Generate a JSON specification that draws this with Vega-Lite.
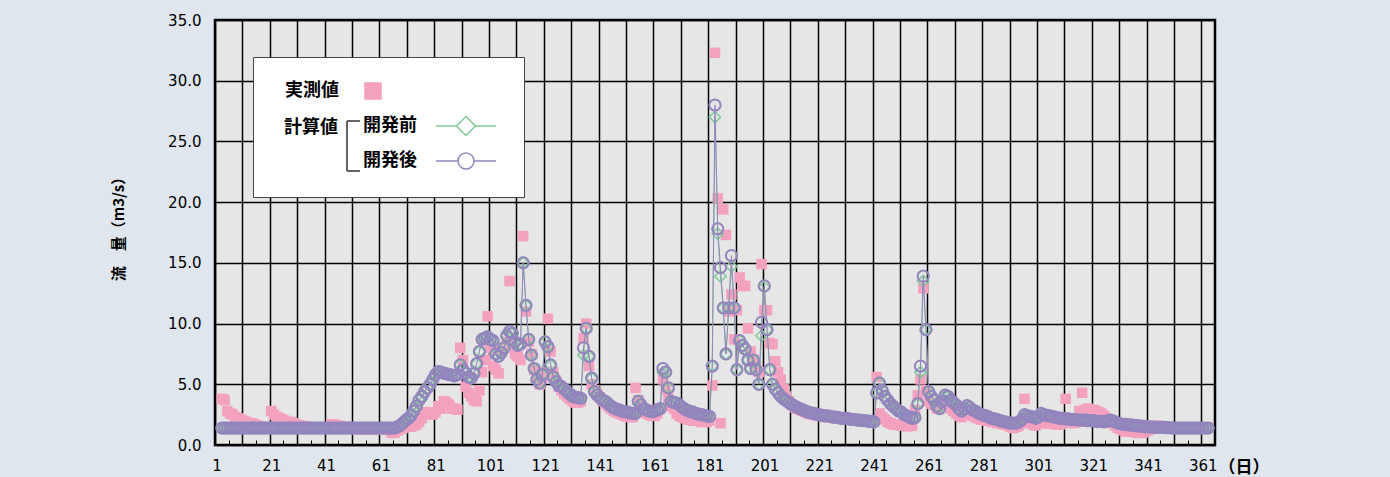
{
"$schema": "https://vega.github.io/schema/vega-lite/v6.json",
"autosize": {"type": "none"},
"padding": {"left": 215, "top": 20, "right": 175, "bottom": 32},
"width": 1000,
"height": 425,
"background": "#dfe6ee",
"config": {
  "view": {"fill": "#e6e6e6", "stroke": "#000000", "strokeWidth": 2.5},
  "axis": {"labelColor": "#000000", "titleColor": "#000000"},
  "axisY": {"tickCount": 8, "grid": true, "gridColor": "#000000", "gridWidth": 1.5, "ticks": false, "domain": false,
    "labelFont": "DejaVu Sans", "labelFontSize": 15, "labelPadding": 14,
    "titleFont": "Noto Sans CJK JP", "titleFontSize": 15, "titleFontWeight": "bold",
    "titleX": -97, "titleY": 205, "titleAngle": -90, "titleAlign": "center", "titleBaseline": "middle"}
},
"data": {"values": [
{"d":3,"o":3.8,"b":1.4,"a":1.4},{"d":4,"o":3.7,"b":1.4,"a":1.4},{"d":5,"o":2.8,"b":1.4,"a":1.4},{"d":6,"o":2.6,"b":1.4,"a":1.4},{"d":7,"o":2.5,"b":1.4,"a":1.4},{"d":8,"o":2.3,"b":1.4,"a":1.4},{"d":9,"o":2.2,"b":1.4,"a":1.4},{"d":10,"o":2.1,"b":1.4,"a":1.4},
{"d":11,"o":2.0,"b":1.4,"a":1.4},{"d":12,"o":1.9,"b":1.4,"a":1.4},{"d":13,"o":1.8,"b":1.4,"a":1.4},{"d":14,"o":1.8,"b":1.4,"a":1.4},{"d":15,"o":1.7,"b":1.4,"a":1.4},{"d":16,"o":1.6,"b":1.4,"a":1.4},{"d":17,"o":1.5,"b":1.4,"a":1.4},{"d":18,"o":1.5,"b":1.4,"a":1.4},{"d":19,"o":1.4,"b":1.4,"a":1.4},{"d":20,"o":1.4,"b":1.4,"a":1.4},
{"d":21,"o":2.8,"b":1.4,"a":1.4},{"d":22,"o":2.5,"b":1.4,"a":1.4},{"d":23,"o":2.3,"b":1.4,"a":1.4},{"d":24,"o":2.2,"b":1.4,"a":1.4},{"d":25,"o":2.1,"b":1.4,"a":1.4},{"d":26,"o":2.0,"b":1.4,"a":1.4},{"d":27,"o":1.9,"b":1.4,"a":1.4},{"d":28,"o":1.9,"b":1.4,"a":1.4},{"d":29,"o":1.8,"b":1.4,"a":1.4},{"d":30,"o":1.7,"b":1.4,"a":1.4},
{"d":31,"o":1.6,"b":1.4,"a":1.4},{"d":32,"o":1.6,"b":1.4,"a":1.4},{"d":33,"o":1.5,"b":1.4,"a":1.4},{"d":34,"o":1.5,"b":1.4,"a":1.4},{"d":35,"o":1.5,"b":1.4,"a":1.4},{"d":36,"o":1.4,"b":1.4,"a":1.4},{"d":37,"o":1.4,"b":1.4,"a":1.4},{"d":38,"o":1.4,"b":1.4,"a":1.4},{"d":39,"o":1.4,"b":1.4,"a":1.4},{"d":40,"o":1.4,"b":1.4,"a":1.4},
{"d":41,"o":1.4,"b":1.4,"a":1.4},{"d":42,"o":1.4,"b":1.4,"a":1.4},{"d":43,"o":1.7,"b":1.4,"a":1.4},{"d":44,"o":1.7,"b":1.4,"a":1.4},{"d":45,"o":1.6,"b":1.4,"a":1.4},{"d":46,"o":1.6,"b":1.4,"a":1.4},{"d":47,"o":1.5,"b":1.4,"a":1.4},{"d":48,"o":1.5,"b":1.4,"a":1.4},{"d":49,"o":1.4,"b":1.4,"a":1.4},{"d":50,"o":1.4,"b":1.4,"a":1.4},
{"d":51,"o":1.4,"b":1.4,"a":1.4},{"d":52,"o":1.3,"b":1.4,"a":1.4},{"d":53,"o":1.3,"b":1.4,"a":1.4},{"d":54,"o":1.3,"b":1.4,"a":1.4},{"d":55,"o":1.3,"b":1.4,"a":1.4},{"d":56,"o":1.3,"b":1.4,"a":1.4},{"d":57,"o":1.3,"b":1.4,"a":1.4},{"d":58,"o":1.3,"b":1.4,"a":1.4},{"d":59,"o":1.3,"b":1.4,"a":1.4},{"d":60,"o":1.3,"b":1.4,"a":1.4},
{"d":61,"o":1.3,"b":1.4,"a":1.4},{"d":62,"o":1.3,"b":1.4,"a":1.4},{"d":63,"o":1.3,"b":1.4,"a":1.4},{"d":64,"o":1.3,"b":1.4,"a":1.4},{"d":65,"o":1.0,"b":1.4,"a":1.4},{"d":66,"o":1.0,"b":1.4,"a":1.4},{"d":67,"o":1.2,"b":1.5,"a":1.5},{"d":68,"o":1.3,"b":1.6,"a":1.6},{"d":69,"o":1.4,"b":1.8,"a":1.8},{"d":70,"o":1.5,"b":2.0,"a":2.0},
{"d":71,"o":1.6,"b":2.2,"a":2.2},{"d":72,"o":1.5,"b":2.4,"a":2.4},{"d":73,"o":1.6,"b":2.8,"a":2.8},{"d":74,"o":1.7,"b":3.2,"a":3.2},{"d":75,"o":1.9,"b":3.7,"a":3.7},{"d":76,"o":2.2,"b":4.0,"a":4.0},{"d":77,"o":2.7,"b":4.4,"a":4.4},{"d":78,"o":2.6,"b":4.7,"a":4.7},{"d":79,"o":2.6,"b":5.0,"a":5.0},{"d":80,"o":2.5,"b":5.4,"a":5.4},
{"d":81,"o":2.7,"b":5.8,"a":5.8},{"d":82,"o":3.2,"b":6.05,"a":6.05},{"d":83,"o":3.0,"b":6.0,"a":6.0},{"d":84,"o":3.6,"b":5.9,"a":5.9},{"d":85,"o":3.5,"b":5.85,"a":5.85},{"d":86,"o":3.3,"b":5.8,"a":5.8},{"d":87,"o":3.0,"b":5.75,"a":5.75},{"d":88,"o":3.0,"b":5.7,"a":5.7},{"d":89,"o":2.9,"b":5.8,"a":5.8},{"d":90,"o":8.0,"b":6.6,"a":6.6},
{"d":91,"o":7.0,"b":6.2,"a":6.2},{"d":92,"o":4.8,"b":5.9,"a":5.9},{"d":93,"o":4.3,"b":5.6,"a":5.6},{"d":94,"o":4.0,"b":5.5,"a":5.5},{"d":95,"o":3.7,"b":5.9,"a":5.9},{"d":96,"o":3.6,"b":6.7,"a":6.7},{"d":97,"o":4.5,"b":7.7,"a":7.7},{"d":98,"o":6.0,"b":8.7,"a":8.7},{"d":99,"o":7.0,"b":8.8,"a":8.8},{"d":100,"o":10.6,"b":8.9,"a":8.9},
{"d":101,"o":8.0,"b":8.7,"a":8.7},{"d":102,"o":6.5,"b":8.6,"a":8.6},{"d":103,"o":6.2,"b":7.5,"a":7.5},{"d":104,"o":5.9,"b":7.3,"a":7.3},{"d":105,"o":7.8,"b":7.6,"a":7.6},{"d":106,"o":8.0,"b":8.0,"a":8.0},{"d":107,"o":8.5,"b":9.0,"a":9.0},{"d":108,"o":13.5,"b":9.35,"a":9.35},{"d":109,"o":8.2,"b":9.2,"a":9.2},{"d":110,"o":7.5,"b":8.5,"a":8.5},
{"d":111,"o":7.3,"b":8.2,"a":8.2},{"d":112,"o":7.0,"b":8.3,"a":8.3},{"d":113,"o":17.2,"b":15.0,"a":15.0},{"d":114,"o":11.0,"b":11.5,"a":11.5},{"d":115,"o":8.5,"b":8.7,"a":8.7},{"d":116,"o":7.5,"b":7.4,"a":7.4},{"d":117,"o":6.2,"b":6.3,"a":6.3},{"d":118,"o":5.5,"b":5.4,"a":5.4},{"d":119,"o":5.0,"b":5.1,"a":5.1},{"d":120,"o":5.5,"b":5.8,"a":5.8},
{"d":121,"o":6.0,"b":8.5,"a":8.5},{"d":122,"o":10.4,"b":8.1,"a":8.1},{"d":123,"o":7.7,"b":6.6,"a":6.6},{"d":124,"o":6.0,"b":5.6,"a":5.6},{"d":125,"o":5.3,"b":5.2,"a":5.2},{"d":126,"o":4.8,"b":4.9,"a":4.9},{"d":127,"o":4.5,"b":4.8,"a":4.8},{"d":128,"o":4.2,"b":4.6,"a":4.6},{"d":129,"o":4.0,"b":4.4,"a":4.4},{"d":130,"o":3.8,"b":4.2,"a":4.2},
{"d":131,"o":3.6,"b":4.0,"a":4.0},{"d":132,"o":3.5,"b":3.95,"a":3.95},{"d":133,"o":3.5,"b":3.9,"a":3.9},{"d":134,"o":3.6,"b":3.85,"a":3.85},{"d":135,"o":8.8,"b":7.4,"a":8.0},{"d":136,"o":10.0,"b":9.6,"a":9.6},{"d":137,"o":6.5,"b":7.3,"a":7.3},{"d":138,"o":5.0,"b":5.5,"a":5.5},{"d":139,"o":4.5,"b":4.4,"a":4.4},{"d":140,"o":4.2,"b":4.1,"a":4.1},
{"d":141,"o":3.9,"b":3.9,"a":3.9},{"d":142,"o":3.6,"b":3.7,"a":3.7},{"d":143,"o":3.4,"b":3.6,"a":3.6},{"d":144,"o":3.2,"b":3.4,"a":3.4},{"d":145,"o":3.0,"b":3.2,"a":3.2},{"d":146,"o":2.8,"b":3.05,"a":3.05},{"d":147,"o":2.7,"b":2.95,"a":2.95},{"d":148,"o":2.6,"b":2.9,"a":2.9},{"d":149,"o":2.5,"b":2.8,"a":2.8},{"d":150,"o":2.4,"b":2.75,"a":2.75},
{"d":151,"o":2.35,"b":2.7,"a":2.7},{"d":152,"o":2.3,"b":2.65,"a":2.65},{"d":153,"o":2.3,"b":2.6,"a":2.6},{"d":154,"o":4.7,"b":2.6,"a":2.6},{"d":155,"o":3.7,"b":3.6,"a":3.6},{"d":156,"o":3.2,"b":3.3,"a":3.3},{"d":157,"o":2.9,"b":3.0,"a":3.0},{"d":158,"o":2.6,"b":2.9,"a":2.9},{"d":159,"o":2.5,"b":2.8,"a":2.8},{"d":160,"o":2.4,"b":2.75,"a":2.75},
{"d":161,"o":2.4,"b":2.8,"a":2.8},{"d":162,"o":2.6,"b":2.9,"a":2.9},{"d":163,"o":3.0,"b":3.0,"a":3.0},{"d":164,"o":5.4,"b":6.0,"a":6.3},{"d":165,"o":4.6,"b":6.0,"a":6.0},{"d":166,"o":3.8,"b":4.7,"a":4.7},{"d":167,"o":3.2,"b":3.6,"a":3.6},{"d":168,"o":3.0,"b":3.5,"a":3.5},{"d":169,"o":2.6,"b":3.45,"a":3.45},{"d":170,"o":2.4,"b":3.3,"a":3.3},
{"d":171,"o":2.3,"b":3.1,"a":3.1},{"d":172,"o":2.2,"b":2.95,"a":2.95},{"d":173,"o":2.1,"b":2.85,"a":2.85},{"d":174,"o":2.1,"b":2.75,"a":2.75},{"d":175,"o":2.0,"b":2.7,"a":2.7},{"d":176,"o":2.0,"b":2.6,"a":2.6},{"d":177,"o":2.0,"b":2.55,"a":2.55},{"d":178,"o":1.9,"b":2.5,"a":2.5},{"d":179,"o":1.9,"b":2.45,"a":2.45},{"d":180,"o":1.9,"b":2.4,"a":2.4},
{"d":181,"o":2.0,"b":2.35,"a":2.35},{"d":182,"o":4.9,"b":6.5,"a":6.5},{"d":183,"o":32.3,"b":27.0,"a":28.0},{"d":184,"o":20.3,"b":17.4,"a":17.8},{"d":185,"o":1.8,"b":13.9,"a":14.6},{"d":186,"o":19.4,"b":11.3,"a":11.3},{"d":187,"o":17.3,"b":7.5,"a":7.5},{"d":188,"o":11.0,"b":11.3,"a":11.3},{"d":189,"o":12.4,"b":14.7,"a":15.6},{"d":190,"o":8.7,"b":11.3,"a":11.3},
{"d":191,"o":11.1,"b":6.2,"a":6.2},{"d":192,"o":13.8,"b":8.6,"a":8.6},{"d":193,"o":13.1,"b":8.2,"a":8.2},{"d":194,"o":13.1,"b":7.9,"a":7.9},{"d":195,"o":9.6,"b":7.0,"a":7.0},{"d":196,"o":7.7,"b":6.3,"a":6.3},{"d":197,"o":7.0,"b":7.0,"a":7.0},{"d":198,"o":6.5,"b":6.2,"a":6.2},{"d":199,"o":6.0,"b":5.0,"a":5.0},{"d":200,"o":14.9,"b":9.0,"a":10.1},
{"d":201,"o":11.1,"b":13.0,"a":13.1},{"d":202,"o":11.1,"b":9.5,"a":9.5},{"d":203,"o":8.4,"b":6.2,"a":6.2},{"d":204,"o":8.3,"b":5.0,"a":5.0},{"d":205,"o":6.9,"b":4.6,"a":4.6},{"d":206,"o":6.0,"b":4.3,"a":4.3},{"d":207,"o":5.4,"b":4.0,"a":4.0},{"d":208,"o":4.6,"b":3.8,"a":3.8},{"d":209,"o":4.0,"b":3.65,"a":3.65},{"d":210,"o":3.6,"b":3.5,"a":3.5},
{"d":211,"o":3.3,"b":3.35,"a":3.35},{"d":212,"o":3.1,"b":3.2,"a":3.2},{"d":213,"o":3.0,"b":3.1,"a":3.1},{"d":214,"o":2.9,"b":3.0,"a":3.0},{"d":215,"o":2.8,"b":2.9,"a":2.9},{"d":216,"o":2.7,"b":2.8,"a":2.8},{"d":217,"o":2.6,"b":2.7,"a":2.7},{"d":218,"o":2.55,"b":2.65,"a":2.65},{"d":219,"o":2.5,"b":2.6,"a":2.6},{"d":220,"o":2.45,"b":2.55,"a":2.55},
{"d":221,"o":2.4,"b":2.5,"a":2.5},{"d":222,"o":2.4,"b":2.45,"a":2.45},{"d":223,"o":2.35,"b":2.4,"a":2.4},{"d":224,"o":2.3,"b":2.4,"a":2.4},{"d":225,"o":2.3,"b":2.35,"a":2.35},{"d":226,"o":2.3,"b":2.3,"a":2.3},{"d":227,"o":2.25,"b":2.3,"a":2.3},{"d":228,"o":2.25,"b":2.25,"a":2.25},{"d":229,"o":2.2,"b":2.2,"a":2.2},{"d":230,"o":2.2,"b":2.2,"a":2.2},
{"d":231,"o":2.2,"b":2.2,"a":2.2},{"d":232,"o":2.15,"b":2.15,"a":2.15},{"d":233,"o":2.15,"b":2.1,"a":2.1},{"d":234,"o":2.1,"b":2.1,"a":2.1},{"d":235,"o":2.1,"b":2.05,"a":2.05},{"d":236,"o":2.1,"b":2.05,"a":2.05},{"d":237,"o":2.05,"b":2.0,"a":2.0},{"d":238,"o":2.05,"b":2.0,"a":2.0},{"d":239,"o":2.0,"b":1.95,"a":1.95},{"d":240,"o":2.0,"b":1.95,"a":1.95},
{"d":241,"o":1.95,"b":1.9,"a":1.9},{"d":242,"o":5.6,"b":4.3,"a":4.3},{"d":243,"o":2.6,"b":5.1,"a":5.1},{"d":244,"o":2.3,"b":4.5,"a":4.5},{"d":245,"o":2.1,"b":4.0,"a":4.0},{"d":246,"o":1.9,"b":3.7,"a":3.7},{"d":247,"o":1.8,"b":3.4,"a":3.4},{"d":248,"o":1.7,"b":3.2,"a":3.2},{"d":249,"o":1.7,"b":3.0,"a":3.0},{"d":250,"o":1.65,"b":2.8,"a":2.8},
{"d":251,"o":1.6,"b":2.7,"a":2.7},{"d":252,"o":1.6,"b":2.5,"a":2.5},{"d":253,"o":1.55,"b":2.4,"a":2.4},{"d":254,"o":1.55,"b":2.3,"a":2.3},{"d":255,"o":1.6,"b":2.2,"a":2.2},{"d":256,"o":2.9,"b":2.25,"a":2.25},{"d":257,"o":4.1,"b":3.4,"a":3.4},{"d":258,"o":5.4,"b":6.0,"a":6.5},{"d":259,"o":12.9,"b":13.5,"a":13.9},{"d":260,"o":4.5,"b":9.5,"a":9.5},
{"d":261,"o":3.6,"b":4.4,"a":4.4},{"d":262,"o":3.4,"b":4.0,"a":4.0},{"d":263,"o":3.3,"b":3.7,"a":3.7},{"d":264,"o":3.0,"b":3.2,"a":3.2},{"d":265,"o":3.1,"b":3.0,"a":3.0},{"d":266,"o":3.4,"b":3.6,"a":3.6},{"d":267,"o":3.6,"b":4.1,"a":4.1},{"d":268,"o":3.3,"b":4.0,"a":4.0},{"d":269,"o":3.0,"b":3.7,"a":3.7},{"d":270,"o":2.8,"b":3.5,"a":3.5},
{"d":271,"o":2.6,"b":3.3,"a":3.3},{"d":272,"o":2.4,"b":3.0,"a":3.0},{"d":273,"o":2.3,"b":2.8,"a":2.8},{"d":274,"o":2.6,"b":3.0,"a":3.0},{"d":275,"o":2.8,"b":3.25,"a":3.25},{"d":276,"o":2.6,"b":3.1,"a":3.1},{"d":277,"o":2.4,"b":2.9,"a":2.9},{"d":278,"o":2.3,"b":2.8,"a":2.8},{"d":279,"o":2.2,"b":2.65,"a":2.65},{"d":280,"o":2.1,"b":2.55,"a":2.55},
{"d":281,"o":2.1,"b":2.45,"a":2.45},{"d":282,"o":2.0,"b":2.4,"a":2.4},{"d":283,"o":2.0,"b":2.3,"a":2.3},{"d":284,"o":1.9,"b":2.2,"a":2.2},{"d":285,"o":1.9,"b":2.15,"a":2.15},{"d":286,"o":1.8,"b":2.1,"a":2.1},{"d":287,"o":1.8,"b":2.0,"a":2.0},{"d":288,"o":1.7,"b":1.95,"a":1.95},{"d":289,"o":1.7,"b":1.9,"a":1.9},{"d":290,"o":1.6,"b":1.85,"a":1.85},
{"d":291,"o":1.5,"b":1.8,"a":1.8},{"d":292,"o":1.4,"b":1.8,"a":1.8},{"d":293,"o":1.5,"b":1.8,"a":1.8},{"d":294,"o":1.6,"b":1.9,"a":1.9},{"d":295,"o":1.8,"b":2.1,"a":2.1},{"d":296,"o":3.8,"b":2.5,"a":2.5},{"d":297,"o":2.2,"b":2.4,"a":2.4},{"d":298,"o":1.9,"b":2.35,"a":2.35},{"d":299,"o":1.7,"b":2.3,"a":2.3},{"d":300,"o":1.6,"b":2.2,"a":2.2},
{"d":301,"o":1.9,"b":2.3,"a":2.3},{"d":302,"o":2.0,"b":2.6,"a":2.6},{"d":303,"o":1.8,"b":2.5,"a":2.5},{"d":304,"o":1.8,"b":2.45,"a":2.45},{"d":305,"o":1.8,"b":2.4,"a":2.4},{"d":306,"o":1.8,"b":2.35,"a":2.35},{"d":307,"o":1.7,"b":2.3,"a":2.3},{"d":308,"o":1.7,"b":2.25,"a":2.25},{"d":309,"o":1.7,"b":2.2,"a":2.2},{"d":310,"o":1.8,"b":2.2,"a":2.2},
{"d":311,"o":3.8,"b":2.15,"a":2.15},{"d":312,"o":2.0,"b":2.15,"a":2.15},{"d":313,"o":1.9,"b":2.1,"a":2.1},{"d":314,"o":1.8,"b":2.1,"a":2.1},{"d":315,"o":1.9,"b":2.1,"a":2.1},{"d":316,"o":2.8,"b":2.05,"a":2.05},{"d":317,"o":4.3,"b":2.05,"a":2.05},{"d":318,"o":2.9,"b":2.05,"a":2.05},{"d":319,"o":3.0,"b":2.0,"a":2.0},{"d":320,"o":2.9,"b":2.0,"a":2.0},
{"d":321,"o":2.9,"b":2.0,"a":2.0},{"d":322,"o":2.8,"b":1.95,"a":1.95},{"d":323,"o":2.7,"b":1.95,"a":1.95},{"d":324,"o":2.6,"b":1.95,"a":1.95},{"d":325,"o":2.4,"b":1.9,"a":1.9},{"d":326,"o":2.2,"b":1.95,"a":1.95},{"d":327,"o":2.0,"b":2.05,"a":2.05},{"d":328,"o":1.8,"b":2.0,"a":2.0},{"d":329,"o":1.6,"b":1.9,"a":1.9},{"d":330,"o":1.4,"b":1.8,"a":1.8},
{"d":331,"o":1.3,"b":1.75,"a":1.75},{"d":332,"o":1.2,"b":1.7,"a":1.7},{"d":333,"o":1.1,"b":1.7,"a":1.7},{"d":334,"o":1.1,"b":1.65,"a":1.65},{"d":335,"o":1.1,"b":1.65,"a":1.65},{"d":336,"o":1.1,"b":1.6,"a":1.6},{"d":337,"o":1.0,"b":1.6,"a":1.6},{"d":338,"o":1.0,"b":1.55,"a":1.55},{"d":339,"o":1.0,"b":1.55,"a":1.55},{"d":340,"o":1.1,"b":1.5,"a":1.5},
{"d":341,"o":1.2,"b":1.5,"a":1.5},{"d":342,"o":1.3,"b":1.5,"a":1.5},{"d":343,"o":1.4,"b":1.48,"a":1.48},{"d":344,"o":1.5,"b":1.46,"a":1.46},{"d":345,"o":1.6,"b":1.46,"a":1.46},{"d":346,"o":1.5,"b":1.45,"a":1.45},{"d":347,"o":1.5,"b":1.44,"a":1.44},{"d":348,"o":1.45,"b":1.43,"a":1.43},{"d":349,"o":1.45,"b":1.42,"a":1.42},{"d":350,"o":1.45,"b":1.4,"a":1.4},
{"d":351,"o":1.45,"b":1.4,"a":1.4},{"d":352,"o":1.45,"b":1.4,"a":1.4},{"d":353,"o":1.45,"b":1.4,"a":1.4},{"d":354,"o":1.45,"b":1.4,"a":1.4},{"d":355,"o":1.45,"b":1.4,"a":1.4},{"d":356,"o":1.45,"b":1.4,"a":1.4},{"d":357,"o":1.45,"b":1.4,"a":1.4},{"d":358,"o":1.45,"b":1.4,"a":1.4},{"d":359,"o":1.45,"b":1.4,"a":1.4},{"d":360,"o":1.45,"b":1.4,"a":1.4},
{"d":361,"o":1.45,"b":1.4,"a":1.4},{"d":362,"o":1.45,"b":1.4,"a":1.4},{"d":363,"o":1.45,"b":1.4,"a":1.4}
]},
"encoding": {
  "x": {"field": "d", "type": "quantitative",
    "scale": {"domain": [0.5, 365.5], "nice": false, "zero": false},
    "axis": {
      "values": [0.5,5.5,10.5,15.5,20.5,25.5,30.5,35.5,40.5,45.5,50.5,55.5,60.5,65.5,70.5,75.5,80.5,85.5,90.5,95.5,100.5,105.5,110.5,115.5,120.5,125.5,130.5,135.5,140.5,145.5,150.5,155.5,160.5,165.5,170.5,175.5,180.5,185.5,190.5,195.5,200.5,205.5,210.5,215.5,220.5,225.5,230.5,235.5,240.5,245.5,250.5,255.5,260.5,265.5,270.5,275.5,280.5,285.5,290.5,295.5,300.5,305.5,310.5,315.5,320.5,325.5,330.5,335.5,340.5,345.5,350.5,355.5,360.5,365.5],
      "labelExpr": "(datum.value - 0.5) % 20 === 0 && datum.value < 365 ? format(datum.value + 0.5, 'd') : ''",
      "labelOverlap": false, "labelFlush": false, "labelBound": false,
      "labelFont": "DejaVu Sans", "labelFontSize": 15, "labelOffset": 1.5, "labelPadding": 18,
      "grid": true, "gridColor": "#000000", "gridWidth": 1.5,
      "gridOpacity": {"condition": {"test": "(datum.value - 0.5) % 10 === 0", "value": 1}, "value": 0},
      "domain": false, "ticks": true, "tickSize": -5, "tickColor": "#000000", "tickWidth": 1,
      "title": "（日）", "titleFont": "Noto Sans CJK JP", "titleFontSize": 17, "titleFontWeight": "bold",
      "titleX": 1003, "titleY": 22, "titleAlign": "left", "titleBaseline": "middle", "titleAngle": 0
    }
  }
},
"layer": [
  {"mark": {"type": "square", "color": "#f4a0bf", "size": 110, "opacity": 1},
   "encoding": {"y": {"field": "o", "type": "quantitative", "scale": {"domain": [0, 35], "nice": false},
     "axis": {"title": "流　量（m3/s）", "format": ".1f"}}}},
  {"mark": {"type": "line", "color": "#7dcb96", "strokeWidth": 1},
   "encoding": {"y": {"field": "b", "type": "quantitative", "axis": {"title": "流　量（m3/s）", "format": ".1f"}}}},
  {"mark": {"type": "point", "shape": "diamond", "filled": false, "color": "#7dcb96", "size": 130, "strokeWidth": 1.5, "opacity": 1},
   "encoding": {"y": {"field": "b", "type": "quantitative", "axis": {"title": "流　量（m3/s）", "format": ".1f"}}}},
  {"mark": {"type": "line", "color": "#9484be", "strokeWidth": 1},
   "encoding": {"y": {"field": "a", "type": "quantitative", "axis": {"title": "流　量（m3/s）", "format": ".1f"}}}},
  {"mark": {"type": "point", "shape": "circle", "filled": false, "color": "#9484be", "size": 125, "strokeWidth": 2, "opacity": 1},
   "encoding": {"y": {"field": "a", "type": "quantitative", "axis": {"title": "流　量（m3/s）", "format": ".1f"}}}},
  {"data": {"values": []},
   "mark": {"type": "point", "filled": true, "strokeWidth": 1.5, "opacity": 1},
   "encoding": {
     "shape": {"field": "s", "type": "nominal",
       "scale": {"domain": ["実測値", "開発前", "開発後"], "range": ["M78,-8H94V8H78Z", "M149,0H169.5M188.5,0H209M179,-9.5L188.5,0L179,9.5L169.5,0Z", "M149,0H171M187,0H209M187,0A8,8,0,1,1,171,0A8,8,0,1,1,187,0Z"]},
       "legend": {"title": null, "orient": "none", "legendX": 38, "legendY": 37, "symbolSize": 4, "symbolStrokeWidth": 1.5,
         "labelFont": "Noto Sans CJK JP", "labelFontSize": 18, "labelFontWeight": "bold", "labelColor": "#000000", "labelOffset": 67, "labelLimit": 400,
         "rowPadding": 11, "padding": 25, "fillColor": "#ffffff", "strokeColor": "#444444",
         "labelExpr": "datum.label == '実測値' ? ' ' : datum.label"}},
     "fill": {"field": "s", "type": "nominal",
       "scale": {"domain": ["実測値", "開発前", "開発後"], "range": ["#f4a0bf", "#ffffff", "#ffffff"]},
       "legend": {"title": null, "orient": "none", "legendX": 38, "legendY": 37, "symbolSize": 4, "symbolStrokeWidth": 1.5,
         "labelFont": "Noto Sans CJK JP", "labelFontSize": 18, "labelFontWeight": "bold", "labelColor": "#000000", "labelOffset": 67, "labelLimit": 400,
         "rowPadding": 11, "padding": 25, "fillColor": "#ffffff", "strokeColor": "#444444",
         "labelExpr": "datum.label == '実測値' ? ' ' : datum.label"}},
     "stroke": {"field": "s", "type": "nominal",
       "scale": {"domain": ["実測値", "開発前", "開発後"], "range": ["#f4a0bf", "#7dcb96", "#9484be"]},
       "legend": {"title": null, "orient": "none", "legendX": 38, "legendY": 37, "symbolSize": 4, "symbolStrokeWidth": 1.5,
         "labelFont": "Noto Sans CJK JP", "labelFontSize": 18, "labelFontWeight": "bold", "labelColor": "#000000", "labelOffset": 67, "labelLimit": 400,
         "rowPadding": 11, "padding": 25, "fillColor": "#ffffff", "strokeColor": "#444444",
         "labelExpr": "datum.label == '実測値' ? ' ' : datum.label"}}
   }},
  {"data": {"values": []},
   "mark": {"type": "point", "filled": false, "color": "#333333", "strokeWidth": 1.5, "opacity": 1},
   "encoding": {
     "strokeDash": {"field": "k", "type": "nominal",
       "scale": {"domain": ["計算値"], "range": [[1, 0]]},
       "legend": {"title": "実測値", "orient": "none", "legendX": 70, "legendY": 62, "padding": 0,
         "symbolType": "M66,-7H53V43H66", "symbolSize": 4, "symbolStrokeWidth": 1.5, "symbolStrokeColor": "#333333", "symbolFillColor": "transparent",
         "labelFont": "Noto Sans CJK JP", "labelFontSize": 18, "labelFontWeight": "bold", "labelColor": "#000000", "labelOffset": -19, "labelLimit": 400,
         "titleFont": "Noto Sans CJK JP", "titleFontSize": 18, "titleFontWeight": "bold", "titleColor": "#000000", "titlePadding": 19}}
   }}
]
}
